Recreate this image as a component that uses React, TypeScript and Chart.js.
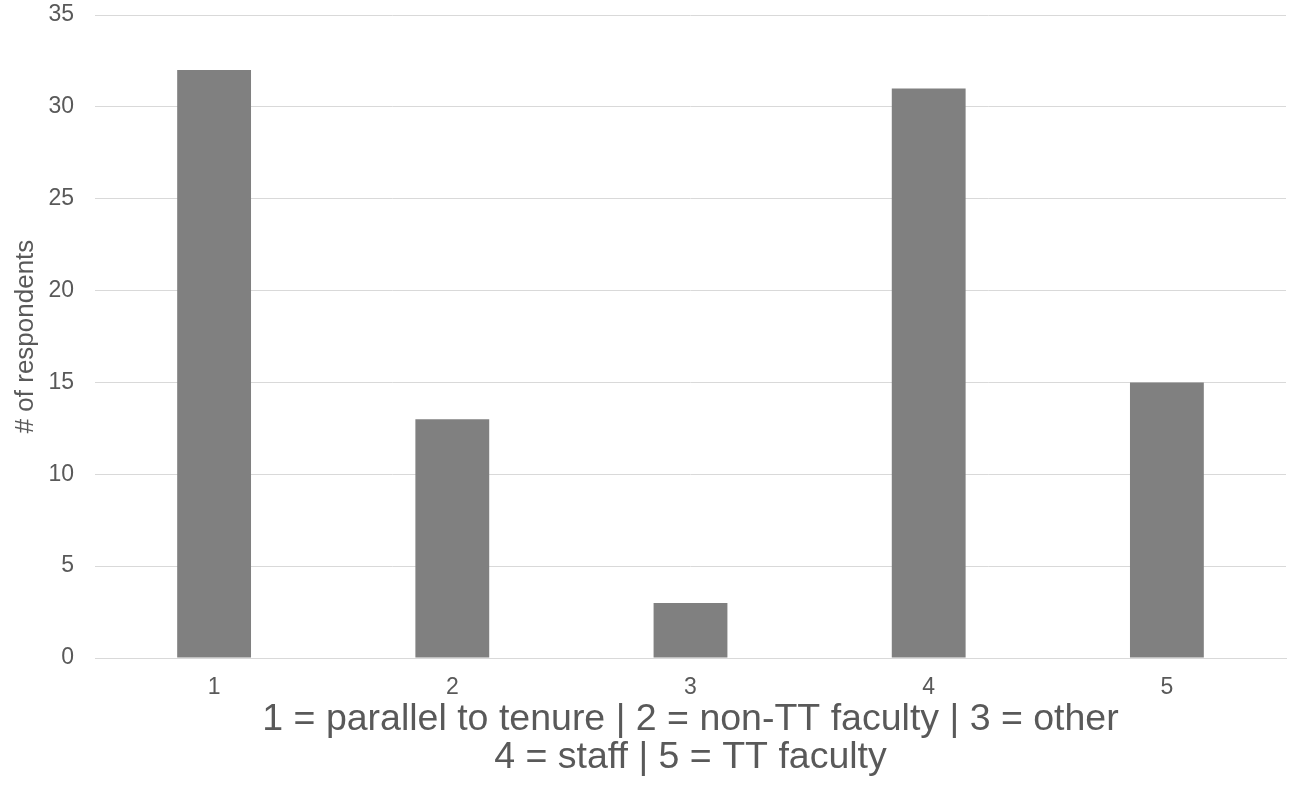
import React, { useEffect, useRef } from "react";
import { Chart, registerables } from "chart.js";

Chart.register(...registerables);

const categories: string[] = ["1", "2", "3", "4", "5"];
const respondents: number[] = [32, 13, 3, 31, 15];
const yTitle = "# of respondents";
const xTitleLines: string[] = [
  "1 = parallel to tenure | 2 = non-TT faculty | 3 = other",
  "4 = staff | 5 = TT faculty",
];

const FONT = "'Liberation Sans', Arial, Helvetica, sans-serif";
const TEXT = "#595959";

export default function App() {
  const ref = useRef<HTMLCanvasElement | null>(null);

  useEffect(() => {
    if (!ref.current) return;
    const chart = new Chart(ref.current, {
      type: "bar",
      data: {
        labels: categories,
        datasets: [
          {
            data: respondents,
            backgroundColor: "#808080",
            borderWidth: 0,
            barPercentage: 0.31,
            categoryPercentage: 1,
          },
        ],
      },
      options: {
        responsive: false,
        animation: false,
        layout: { padding: { top: 15, right: 11, left: 0, bottom: 0 } },
        plugins: {
          legend: { display: false },
          tooltip: { enabled: false },
        },
        scales: {
          x: {
            afterFit: (s: any) => {
              s.height = 137;
              s.paddingLeft = 0;
              s.paddingRight = 0;
            },
            grid: { display: false },
            border: { display: true, color: "#d9d9d9", width: 1 },
            ticks: {
              color: TEXT,
              font: { family: FONT, size: 23 },
              padding: 8,
            },
            title: {
              display: true,
              text: xTitleLines,
              color: TEXT,
              font: { family: FONT, size: 37.5, lineHeight: 1.0 },
              padding: { top: 0, bottom: 19 },
            },
          },
          y: {
            min: 0,
            max: 35,
            afterFit: (s: any) => {
              s.width = 95;
              s.paddingTop = 0;
              s.paddingBottom = 0;
            },
            ticks: {
              stepSize: 5,
              color: TEXT,
              font: { family: FONT, size: 23 },
              padding: 21,
            },
            grid: { color: "#d9d9d9", lineWidth: 1, drawTicks: false },
            border: { display: false },
            title: {
              display: true,
              text: yTitle,
              color: TEXT,
              font: { family: FONT, size: 26, lineHeight: 1.2 },
              padding: { top: 10, bottom: 0 },
            },
          },
        },
      },
    });
    return () => chart.destroy();
  }, []);

  return (
    <div style={{ position: "absolute", left: 0, top: 0, width: 1297, height: 795, background: "#fff" }}>
      <canvas ref={ref} width={1297} height={795} style={{ display: "block" }} />
    </div>
  );
}
